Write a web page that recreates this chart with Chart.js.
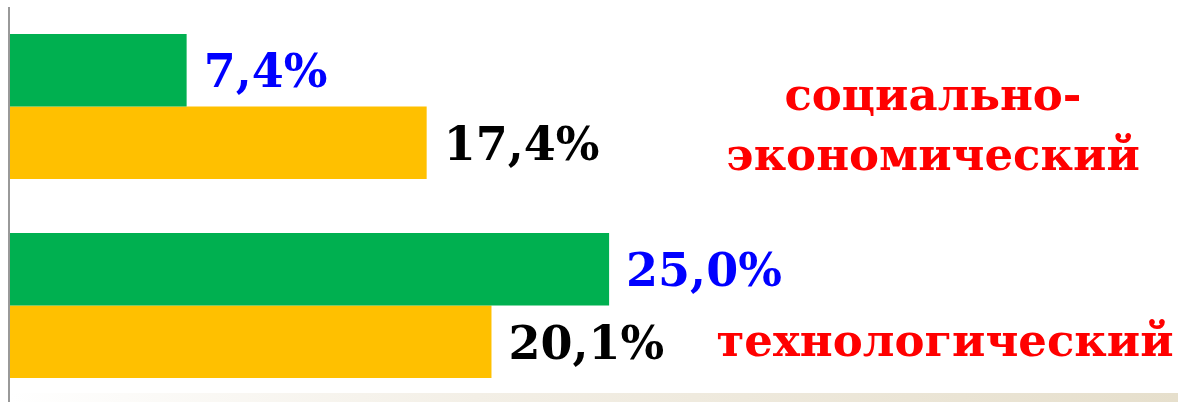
<!DOCTYPE html>
<html lang="ru">
<head>
<meta charset="utf-8">
<script src="https://cdn.jsdelivr.net/npm/chart.js@4"></script>
<style>
  html, body { margin: 0; padding: 0; background: #fff; overflow: hidden; }
  #wrap { position: relative; width: 1178px; height: 405px; }
  #strip {
    position: absolute; left: 10px; right: 0; top: 393px; height: 9px;
    background: linear-gradient(to right, #ffffff, #f3efe6 40%, #e6dfcc);
  }
  #chart { position: relative; }
</style>
</head>
<body>
<div id="wrap">
  <div id="strip"></div>
  <canvas id="chart"></canvas>
</div>
<script>
const categories = [['социально-', 'экономический'], ['технологический']];
const seriesGreen = [7.4, 25.0];
const seriesYellow = [17.4, 20.1];
const seriesNames = ['Ряд 1', 'Ряд 2'];

const valueColors = ['#0000ff', '#000000'];
const labelFont = 'bold 46px "DejaVu Serif"';
const catFont = 'bold 45px "DejaVu Serif"';

// where category names sit: x of center, y offsets from category center
const catPlacement = [
  { x: 933, dy: [-8, 52] },
  { x: 945, dy: [39] },
];

const fmt = v => v.toFixed(1).replace('.', ',') + '%';

const valueLabels = {
  id: 'valueLabels',
  afterDatasetsDraw(chart) {
    const { ctx } = chart;
    ctx.save();
    ctx.font = labelFont;
    ctx.textAlign = 'left';
    ctx.textBaseline = 'middle';
    chart.data.datasets.forEach((ds, i) => {
      chart.getDatasetMeta(i).data.forEach((bar, j) => {
        ctx.fillStyle = valueColors[i];
        ctx.fillText(fmt(ds.data[j]), bar.x + 17, bar.y + 5);
      });
    });
    ctx.restore();
  },
};

const categoryNames = {
  id: 'categoryNames',
  afterDatasetsDraw(chart) {
    const { ctx } = chart;
    const y = chart.scales.y;
    ctx.save();
    ctx.font = catFont;
    ctx.fillStyle = '#ff0000';
    ctx.textAlign = 'center';
    ctx.textBaseline = 'middle';
    categories.forEach((lines, i) => {
      const cy = y.getPixelForValue(i);
      lines.forEach((line, k) => {
        ctx.fillText(line, catPlacement[i].x, cy + catPlacement[i].dy[k]);
      });
    });
    ctx.restore();
  },
};

new Chart(document.getElementById('chart'), {
  type: 'bar',
  data: {
    labels: categories.map(c => c.join(' ')),
    datasets: [
      {
        label: seriesNames[0],
        data: seriesGreen,
        backgroundColor: '#00b050',
        categoryPercentage: 0.729,
        barPercentage: 1,
      },
      {
        label: seriesNames[1],
        data: seriesYellow,
        backgroundColor: '#ffc000',
        categoryPercentage: 0.729,
        barPercentage: 1,
      },
    ],
  },
  options: {
    indexAxis: 'y',
    responsive: true,
    maintainAspectRatio: false,
    animation: false,
    layout: { padding: { top: 7, left: 9, right: 0, bottom: 0 } },
    plugins: {
      legend: { display: false },
      tooltip: { enabled: false },
    },
    scales: {
      x: { display: false, min: 0, max: 48.7 },
      y: { display: false },
    },
  },
  plugins: [
    valueLabels,
    categoryNames,
    {
      id: 'axisLine',
      afterDatasetsDraw(chart) {
        const { ctx, chartArea } = chart;
        ctx.save();
        ctx.strokeStyle = '#999999';
        ctx.lineWidth = 2;
        ctx.beginPath();
        ctx.moveTo(chartArea.left, chartArea.top);
        ctx.lineTo(chartArea.left, chartArea.bottom);
        ctx.stroke();
        ctx.restore();
      },
    },
  ],
});
</script>
</body>
</html>
